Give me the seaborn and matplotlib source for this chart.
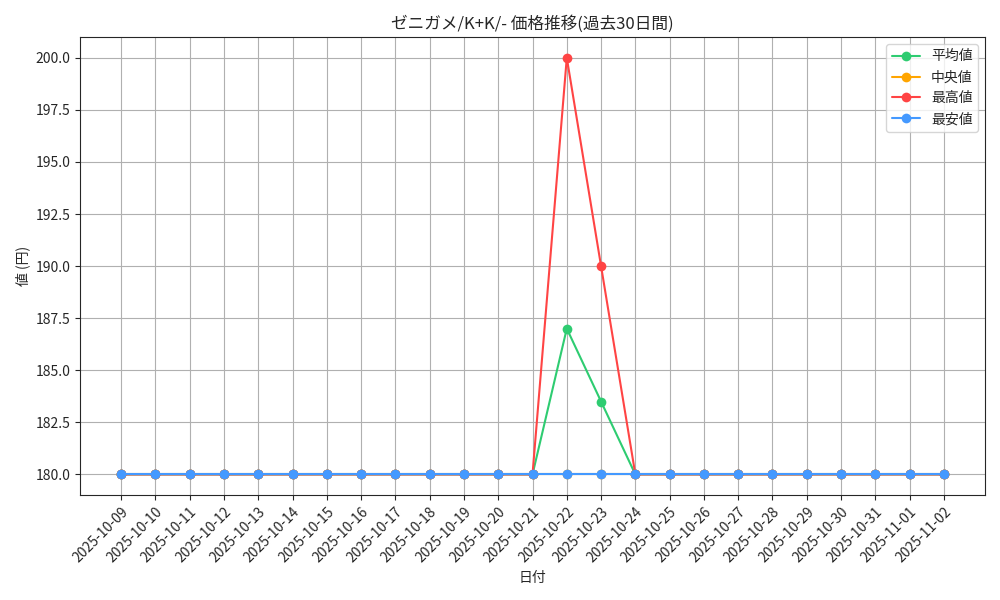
import matplotlib
matplotlib.use("Agg")
import matplotlib.pyplot as plt
import seaborn as sns
import pandas as pd

dates = pd.date_range("2025-10-09", "2025-11-02").strftime("%Y-%m-%d").tolist()
avg_values = [180] * 13 + [187, 183.5] + [180] * 10
median_values = [180] * 25
max_values = [180] * 13 + [200, 190] + [180] * 10
min_values = [180] * 25

series = [
    ("平均値", avg_values, "#2ecc71"),
    ("中央値", median_values, "#ffa500"),
    ("最高値", max_values, "#ff4444"),
    ("最安値", min_values, "#4499ff"),
]

sns.set_style("ticks")
plt.rcParams["font.family"] = ["Noto Sans CJK JP", "DejaVu Sans"]

fig, ax = plt.subplots(figsize=(10, 6), dpi=100)
x = list(range(len(dates)))
for label, values, color in series:
    sns.lineplot(x=x, y=values, ax=ax, label=label, color=color, marker="o",
                 markersize=7, markeredgewidth=0, linewidth=1.5)

ax.set_xticks(x)
ax.set_xticklabels(dates, rotation=45, ha="right", rotation_mode="anchor")
ax.grid(True, color="#b0b0b0", linewidth=0.8)
ax.set_title("ゼニガメ/K+K/- 価格推移(過去30日間)")
ax.set_xlabel("日付")
ax.set_ylabel("値 (円)")
ax.legend(loc="upper right")
fig.tight_layout()
fig.savefig("out.png")
